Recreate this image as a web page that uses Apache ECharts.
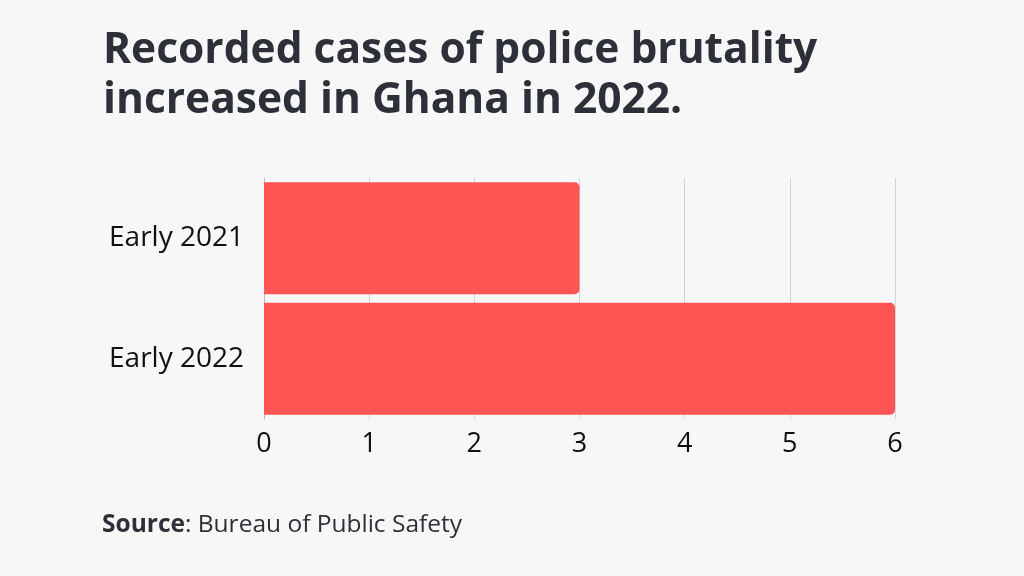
<!DOCTYPE html>
<html><head><meta charset="utf-8">
<script src="https://cdn.jsdelivr.net/npm/echarts@6/dist/echarts.min.js"></script>
<style>html,body{margin:0;padding:0;background:#f7f7f7}#c{width:1024px;height:576px}</style>
</head><body><div id="c"></div>
<script>
const categories = ['Early 2021', 'Early 2022'];
const values = [3, 6];
const titleText = 'Recorded cases of police brutality\nincreased in Ghana in 2022.';
const sourceLabel = 'Source';
const sourceText = ': Bureau of Public Safety';

const chart = echarts.init(document.getElementById('c'), null, {renderer: 'canvas'});
chart.setOption({
  backgroundColor: '#f7f7f7',
  animation: false,
  title: {
    text: titleText,
    left: 98, top: 21,
    textStyle: {fontFamily: 'Open Sans', fontWeight: 'bold', fontSize: 42.5, lineHeight: 50, color: '#2d3038'}
  },
  graphic: [{
    type: 'text', left: 102, top: 513,
    style: {
      text: '{b|' + sourceLabel + '}' + sourceText,
      rich: {b: {fontFamily: 'Open Sans', fontWeight: 'bold', fontSize: 24.5, fill: '#2d3038'}},
      fontFamily: 'Open Sans', fontSize: 24.5, fill: '#2d3038'
    }
  }],
  grid: {left: 264, right: 129, top: 178, bottom: 157, containLabel: false},
  xAxis: {
    type: 'value', min: 0, max: 6, interval: 1,
    axisLine: {show: false}, axisTick: {show: false},
    splitLine: {show: true, lineStyle: {color: '#d4d4d4', width: 1}},
    axisLabel: {fontFamily: 'Open Sans', fontSize: 27, color: '#111', margin: 12}
  },
  yAxis: {
    type: 'category', data: categories, inverse: true,
    axisLine: {show: true, lineStyle: {color: '#bdbdbd'}}, axisTick: {show: false},
    axisLabel: {fontFamily: 'Open Sans', fontSize: 28, color: '#111', margin: 20}
  },
  series: [{
    type: 'bar', data: values, barWidth: 112,
    itemStyle: {color: '#ff5555', borderRadius: [0, 5, 5, 0]}
  }]
});
</script></body></html>
